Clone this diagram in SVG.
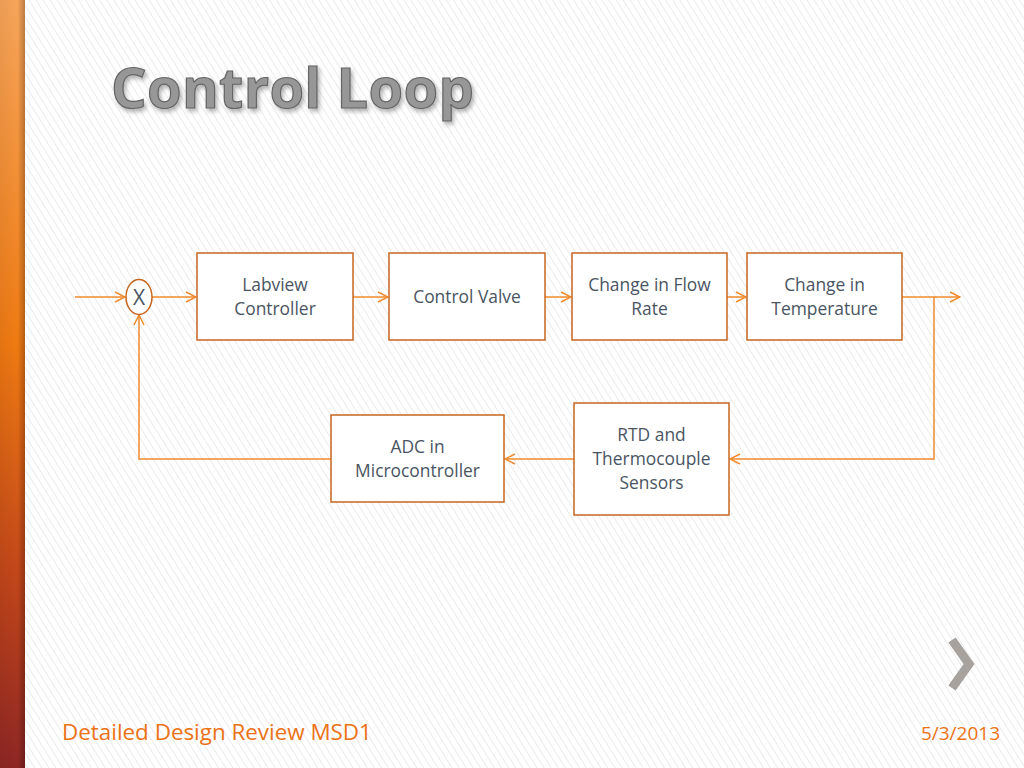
<svg xmlns="http://www.w3.org/2000/svg" width="1024" height="768" viewBox="0 0 1024 768">
<defs>
<pattern id="hatch" width="6" height="6" patternUnits="userSpaceOnUse" patternTransform="rotate(-32)">
<rect width="6" height="6" fill="#ffffff"/>
<line x1="0" y1="0" x2="0" y2="6" stroke="#ebebeb" stroke-width="2"/>
</pattern>
<linearGradient id="bar" x1="0" y1="0" x2="0" y2="1">
<stop offset="0" stop-color="#f7a55a"/>
<stop offset="0.45" stop-color="#ef7a12"/>
<stop offset="0.75" stop-color="#c2461a"/>
<stop offset="1" stop-color="#8e2624"/>
</linearGradient>
<linearGradient id="barShade" x1="0" y1="0" x2="1" y2="0">
<stop offset="0" stop-color="#000" stop-opacity="0.05"/>
<stop offset="0.7" stop-color="#000" stop-opacity="0"/>
<stop offset="1" stop-color="#000" stop-opacity="0.25"/>
</linearGradient>
<marker id="arr" viewBox="0 0 12 12" refX="11" refY="6" markerWidth="12" markerHeight="12" markerUnits="userSpaceOnUse" orient="auto">
<path d="M1,1 L11,6 L1,11" fill="none" stroke="#f08a2c" stroke-width="1.5"/>
</marker>
<filter id="sh" x="-10%" y="-10%" width="130%" height="140%">
<feDropShadow dx="2" dy="3" stdDeviation="2" flood-color="#000" flood-opacity="0.3"/>
</filter>
</defs>
<style>
.box{fill:#ffffff;stroke:#c8661e;stroke-width:1.5}
.lbl{font-family:"Open Sans","Liberation Sans",sans-serif;font-size:17.4px;fill:#4a5563;text-anchor:middle}
.ln{fill:none;stroke:#f08a2c;stroke-width:1.5}
.foot{font-family:"Open Sans","Liberation Sans",sans-serif;font-size:22.4px;fill:#ec7216}
</style>
<rect width="1024" height="768" fill="url(#hatch)"/>
<rect x="0" y="0" width="25" height="768" fill="url(#bar)"/>
<rect x="0" y="0" width="25" height="768" fill="url(#barShade)"/>

<text x="111" y="108" font-family="Open Sans, Liberation Sans, sans-serif" font-size="56" font-weight="bold" fill="#979797" stroke="#656565" stroke-width="1.2" filter="url(#sh)" letter-spacing="0.3">Control Loop</text>

<g id="connectors">
<line class="ln" x1="75" y1="297" x2="125" y2="297" marker-end="url(#arr)"/>
<line class="ln" x1="152" y1="297" x2="196" y2="297" marker-end="url(#arr)"/>
<line class="ln" x1="353" y1="297" x2="388" y2="297" marker-end="url(#arr)"/>
<line class="ln" x1="545" y1="297" x2="571" y2="297" marker-end="url(#arr)"/>
<line class="ln" x1="727" y1="297" x2="746" y2="297" marker-end="url(#arr)"/>
<line class="ln" x1="902" y1="297" x2="960" y2="297" marker-end="url(#arr)"/>
<polyline class="ln" points="934,297 934,459 730,459" marker-end="url(#arr)"/>
<line class="ln" x1="574" y1="459" x2="505" y2="459" marker-end="url(#arr)"/>
<polyline class="ln" points="331,459 139,459 139,315" marker-end="url(#arr)"/>
</g>

<g id="sum">
<ellipse cx="139" cy="297" rx="13" ry="17.5" fill="#ffffff" stroke="#c8661e" stroke-width="1.5"/>
<text class="lbl" x="139" y="304.5" style="font-size:21px">X</text>
</g>
<g id="labview">
<rect class="box" x="197" y="253" width="156" height="87"/>
<text class="lbl" x="275" y="291">Labview</text>
<text class="lbl" x="275" y="315">Controller</text>
</g>
<g id="valve">
<rect class="box" x="389" y="253" width="156" height="87"/>
<text class="lbl" x="467" y="303">Control Valve</text>
</g>
<g id="flow">
<rect class="box" x="572" y="253" width="155" height="87"/>
<text class="lbl" x="649.5" y="291">Change in Flow</text>
<text class="lbl" x="649.5" y="315">Rate</text>
</g>
<g id="temp">
<rect class="box" x="747" y="253" width="155" height="87"/>
<text class="lbl" x="824.5" y="291">Change in</text>
<text class="lbl" x="824.5" y="315">Temperature</text>
</g>
<g id="sensors">
<rect class="box" x="574" y="403" width="155" height="112"/>
<text class="lbl" x="651.5" y="441">RTD and</text>
<text class="lbl" x="651.5" y="465">Thermocouple</text>
<text class="lbl" x="651.5" y="489">Sensors</text>
</g>
<g id="adc">
<rect class="box" x="331" y="415" width="173" height="87"/>
<text class="lbl" x="417.5" y="453">ADC in</text>
<text class="lbl" x="417.5" y="477">Microcontroller</text>
</g>

<polyline points="952,640 969,664 952,688" fill="none" stroke="#a8a29e" stroke-width="9"/>
<text class="foot" x="62" y="740">Detailed Design Review MSD1</text>
<text class="foot" x="1000" y="740" text-anchor="end" style="font-size:19px">5/3/2013</text>
</svg>
